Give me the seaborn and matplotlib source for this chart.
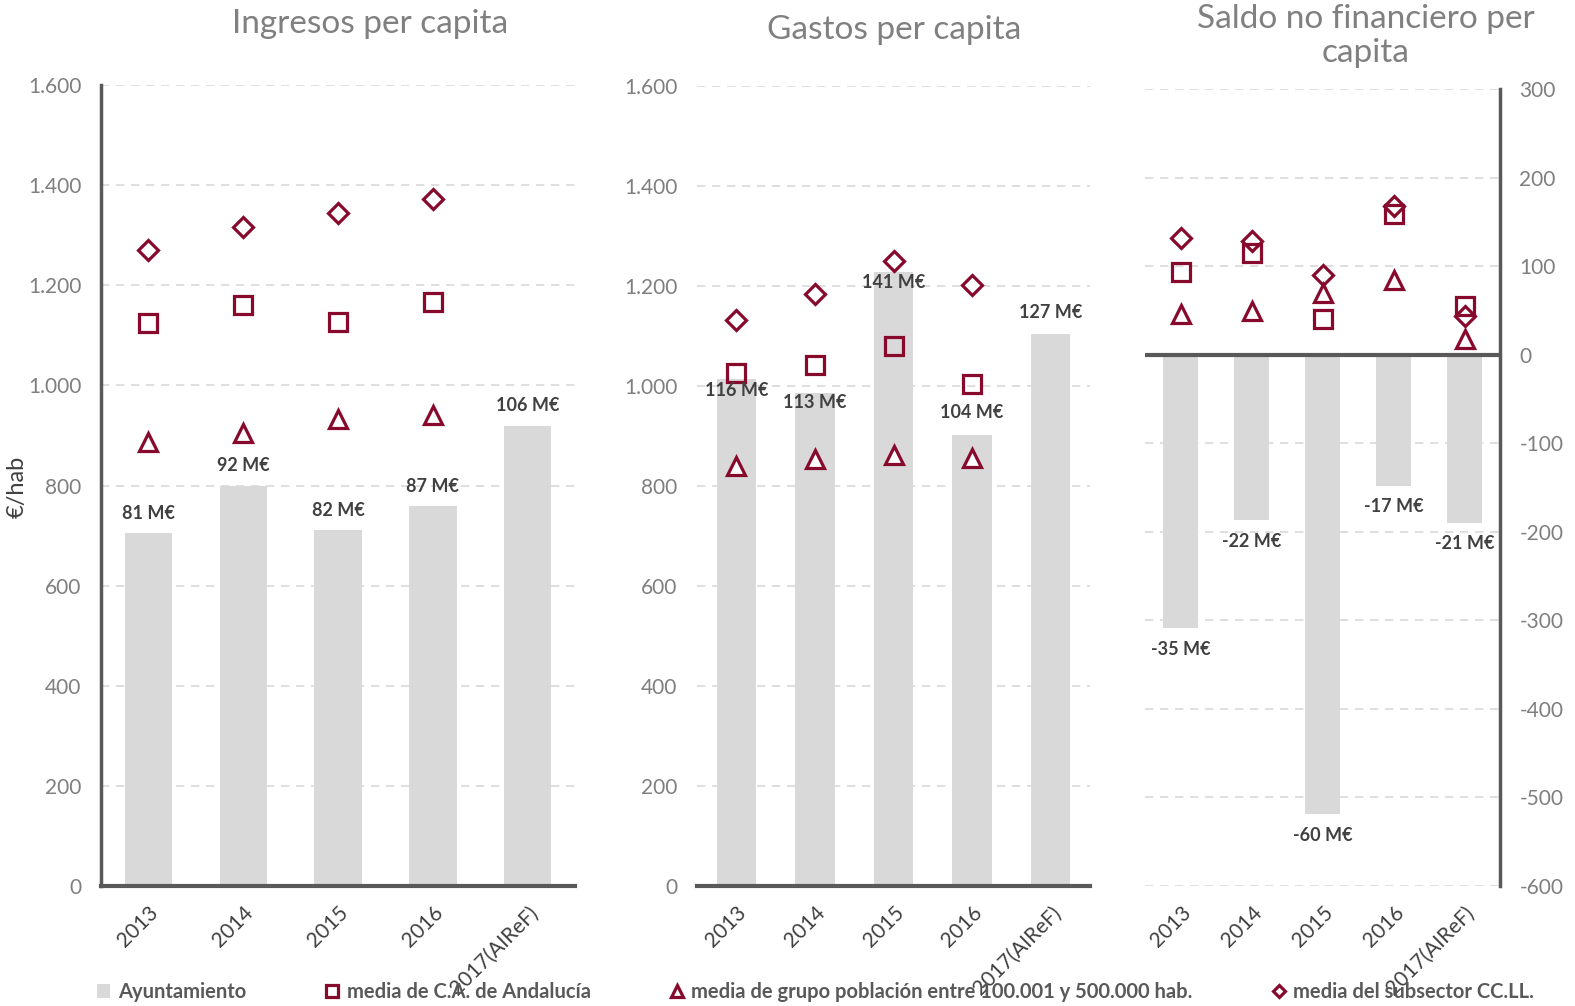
import numpy as np
import pandas as pd
import seaborn as sns
import matplotlib
matplotlib.use("Agg")
import matplotlib.pyplot as plt
from matplotlib.lines import Line2D
from matplotlib.patches import Patch
from matplotlib.ticker import FuncFormatter

# ---------------- data ----------------
years = ['2013', '2014', '2015', '2016', '2017(AIReF)']

ing_ayto = [705, 800, 711, 759, 919]
ing_ca = [1125, 1161, 1127, 1167]
ing_grupo = [887, 905, 933, 941]
ing_subsector = [1271, 1317, 1345, 1373]
ing_labels = ['81 M€', '92 M€', '82 M€', '87 M€', '106 M€']

gas_ayto = [1014, 986, 1228, 902, 1104]
gas_ca = [1026, 1042, 1080, 1004]
gas_grupo = [840, 854, 862, 856]
gas_subsector = [1132, 1184, 1250, 1202]
gas_labels = ['116 M€', '113 M€', '141 M€', '104 M€', '127 M€']

sal_ayto = [-309, -187, -519, -148, -190]
sal_ca = [93, 115, 40, 159, 55]
sal_grupo = [46, 49, 70, 84, 18]
sal_subsector = [132, 128, 90, 168, 44]
sal_labels = ['-35 M€', '-22 M€', '-60 M€', '-17 M€', '-21 M€']

titles = ['Ingresos per capita', 'Gastos per capita', 'Saldo no financiero per\ncapita']
legend_labels = ['Ayuntamiento', 'media de C.A. de Andalucía',
                 'media de grupo población entre 100.001 y 500.000 hab.',
                 'media del subsector CC.LL.']

# ---------------- style ----------------
BAR = '#D9D9D9'
RED = '#870A2D'
AX = '#595959'
TICK = '#7F7F7F'
DARK = '#404040'
FONT = ['Lato', 'DejaVu Sans']

sns.set_theme(style='white')
plt.rcParams['font.family'] = FONT

fig = plt.figure(figsize=(15.75, 10.06), dpi=100)
W, H = 1575, 1006


def rect(l, t, r, b):
    return [l / W, 1 - b / H, (r - l) / W, (b - t) / H]


ax1 = fig.add_axes(rect(101, 85, 575, 886))
ax2 = fig.add_axes(rect(697, 86, 1090, 886))
ax3 = fig.add_axes(rect(1145, 89, 1500, 886))

dot_fmt = FuncFormatter(lambda v, p: f'{int(v):,}'.replace(',', '.'))
hy_fmt = FuncFormatter(lambda v, p: f'{int(v)}')


def draw(ax, ayto, ca, grupo, subs, labels, label_dy, n_avg):
    df = pd.DataFrame({'year': years, 'val': ayto})
    sns.barplot(data=df, x='year', y='val', color=BAR, width=0.5,
                saturation=1, ax=ax, zorder=2, edgecolor='none')
    xs = np.arange(n_avg)
    ax.plot(xs, subs, ls='none', marker='D', ms=10, mfc='white', mec=RED, mew=2.3, zorder=4)
    ax.plot(xs, ca, ls='none', marker='s', ms=13, mfc='none', mec=RED, mew=2.3, zorder=4)
    ax.plot(xs, grupo, ls='none', marker='^', ms=13, mfc='white', mec=RED, mew=2.3, zorder=4)
    for i, (v, lab) in enumerate(zip(ayto, labels)):
        ax.annotate(lab, (i, v), xytext=(0, label_dy[i]), textcoords='offset pixels',
                    ha='center', va='center', fontsize=13, fontweight='bold',
                    color=DARK, zorder=5)
    ax.set_xlim(-0.5, len(years) - 0.5)
    ax.set_xlabel('')
    ax.set_ylabel('')
    ax.grid(axis='y', ls=(0, (5, 4)), color=BAR, lw=1.2, zorder=0)
    ax.grid(axis='x', visible=False)
    for s in ax.spines.values():
        s.set_visible(False)
    ax.set_xticks(range(len(years)))
    ax.set_xticklabels(years, rotation=45, ha='right', rotation_mode='anchor',
                       fontsize=15, color=DARK)
    ax.tick_params(axis='x', length=0, pad=12)
    ax.tick_params(axis='y', length=0, pad=14, labelsize=15, labelcolor=TICK)


draw(ax1, ing_ayto, ing_ca, ing_grupo, ing_subsector, ing_labels, [20] * 5, 4)
draw(ax2, gas_ayto, gas_ca, gas_grupo, gas_subsector, gas_labels, [-11, -9, -11, 22, 21], 4)
draw(ax3, sal_ayto, sal_ca, sal_grupo, sal_subsector, sal_labels, [-21] * 5, 5)

for ax in (ax1, ax2):
    ax.set_ylim(0, 1600)
    ax.set_yticks(np.arange(0, 1601, 200))
    ax.yaxis.set_major_formatter(dot_fmt)
    ax.spines['bottom'].set_visible(True)
    ax.spines['bottom'].set_color(AX)
    ax.spines['bottom'].set_linewidth(3)
    ax.spines['bottom'].set_zorder(6)

ax1.spines['left'].set_visible(True)
ax1.spines['left'].set_color(AX)
ax1.spines['left'].set_linewidth(2.5)

ax3.set_ylim(-600, 300)
ax3.set_yticks(np.arange(-600, 301, 100))
ax3.yaxis.set_major_formatter(hy_fmt)
ax3.yaxis.tick_right()
ax3.spines['right'].set_visible(True)
ax3.spines['right'].set_color(AX)
ax3.spines['right'].set_linewidth(2.5)
ax3.axhline(0, color=AX, lw=3, zorder=6)

ax1.set_ylabel('€/hab', fontsize=17, color=DARK)
ax1.yaxis.set_label_coords((28 - 101) / 474, (886 - 487) / 801)

# titles
tkw = dict(ha='center', va='center', fontsize=24, color='#808080', fontweight='normal')
fig.text(370 / W, 1 - 24 / H, titles[0], **tkw)
fig.text(894 / W, 1 - 30 / H, titles[1], **tkw)
fig.text(1366 / W, 1 - 36 / H, titles[2], linespacing=1.2, **tkw)

handles = [
    Patch(facecolor=BAR, edgecolor='none'),
    Line2D([], [], ls='none', marker='s', ms=9, mfc='none', mec=RED, mew=2.3),
    Line2D([], [], ls='none', marker='^', ms=9, mfc='none', mec=RED, mew=2.3),
    Line2D([], [], ls='none', marker='D', ms=6, mfc='none', mec=RED, mew=2.3),
]
leg = fig.legend(handles, legend_labels, loc='center', bbox_to_anchor=(0.518, 1 - 992 / H),
                 ncol=4, frameon=False, handlelength=0.6, handletextpad=0.4,
                 columnspacing=4.0, prop={'family': FONT, 'weight': 'bold', 'size': 14.5})
for t in leg.get_texts():
    t.set_color(AX)

fig.savefig('out.png', dpi=100, facecolor='white')
